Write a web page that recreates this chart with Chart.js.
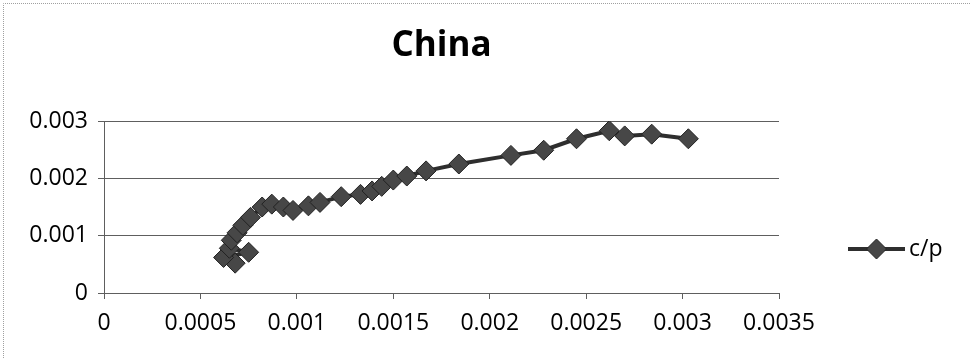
<!DOCTYPE html>
<html>
<head>
<meta charset="utf-8">
<script src="https://cdn.jsdelivr.net/npm/chart.js@4.4.1/dist/chart.umd.min.js"></script>
<style>
  html, body { margin: 0; padding: 0; background: #fff; }
  #wrap { width: 970px; height: 358px; position: relative; }
</style>
</head>
<body>
<div id="wrap"><canvas id="c" width="970" height="358"></canvas></div>
<script>
const chartTitle = 'China';
const seriesName = 'c/p';
const xValues = [0.00068, 0.00062, 0.00075, 0.00065, 0.00066, 0.00069, 0.00072, 0.00076, 0.00082, 0.00087,
                 0.00093, 0.00098, 0.00106, 0.00112, 0.00123, 0.00133, 0.00139, 0.00144, 0.00150, 0.00157,
                 0.00167, 0.00184, 0.00211, 0.00228, 0.00245, 0.00262, 0.00270, 0.00284, 0.00303];
const yValues = [0.00052, 0.00062, 0.00071, 0.00078, 0.00092, 0.00105, 0.00118, 0.00132, 0.00150, 0.00155,
                 0.00150, 0.00144, 0.00152, 0.00158, 0.00168, 0.00172, 0.00178, 0.00186, 0.00197, 0.00204,
                 0.00213, 0.00225, 0.00240, 0.00249, 0.00269, 0.00283, 0.00274, 0.00277, 0.00269];
const xTickValues = [0, 0.0005, 0.001, 0.0015, 0.002, 0.0025, 0.003, 0.0035];
const xTickLabels = ['0', '0.0005', '0.001', '0.0015', '0.002', '0.0025', '0.003', '0.0035'];
const yTickValues = [0, 0.001, 0.002, 0.003];
const yTickLabels = ['0', '0.001', '0.002', '0.003'];

const FONT = '"Open Sans", "DejaVu Sans", sans-serif';
const LINE_COLOR = '#2e2e2e';
const FILL_COLOR = '#474747';
const GRID_COLOR = '#5e5e5e';

const points = xValues.map((x, i) => ({ x: x, y: yValues[i] }));

const framePlugin = {
  id: 'frame',
  beforeDraw(chart) {
    const ctx = chart.ctx;
    ctx.save();
    ctx.strokeStyle = '#a0a0a0';
    ctx.lineWidth = 1;
    ctx.setLineDash([1, 1]);
    ctx.beginPath();
    ctx.moveTo(3.5, chart.height);
    ctx.lineTo(3.5, 3.5);
    ctx.lineTo(chart.width, 3.5);
    ctx.stroke();
    ctx.restore();
  }
};

const legendPlugin = {
  id: 'sideLegend',
  afterDraw(chart) {
    const ctx = chart.ctx;
    const ds = chart.data.datasets[0];
    const area = chart.chartArea;
    const x0 = area.right + 69;
    const x1 = area.right + 126;
    const y = area.bottom - 44;
    ctx.save();
    ctx.strokeStyle = ds.borderColor;
    ctx.lineWidth = ds.borderWidth;
    ctx.beginPath();
    ctx.moveTo(x0, y);
    ctx.lineTo(x1, y);
    ctx.stroke();
    const cx = (x0 + x1) / 2;
    const r = ds.pointRadius;
    ctx.fillStyle = ds.pointBackgroundColor;
    ctx.strokeStyle = ds.pointBorderColor;
    ctx.lineWidth = ds.pointBorderWidth;
    ctx.beginPath();
    ctx.moveTo(cx - r, y);
    ctx.lineTo(cx, y - r);
    ctx.lineTo(cx + r, y);
    ctx.lineTo(cx, y + r);
    ctx.closePath();
    ctx.fill();
    ctx.stroke();
    ctx.fillStyle = '#000';
    ctx.font = '23px ' + FONT;
    ctx.textBaseline = 'middle';
    ctx.textAlign = 'left';
    ctx.fillText(ds.label, x1 + 4, y);
    ctx.restore();
  }
};

new Chart(document.getElementById('c'), {
  type: 'scatter',
  data: {
    datasets: [{
      label: seriesName,
      data: points,
      showLine: true,
      borderColor: LINE_COLOR,
      borderWidth: 4,
      tension: 0,
      pointStyle: 'rectRot',
      pointRadius: 10,
      pointHoverRadius: 10,
      pointBackgroundColor: FILL_COLOR,
      pointBorderColor: '#222222',
      pointBorderWidth: 1
    }]
  },
  options: {
    responsive: false,
    animation: false,
    devicePixelRatio: 1,
    layout: { padding: { top: 8, left: 8, right: 191, bottom: 5 } },
    plugins: {
      legend: { display: false },
      tooltip: { enabled: false },
      title: {
        display: true,
        text: chartTitle,
        fullSize: false,
        color: '#000',
        font: { family: FONT, size: 35, weight: 'bold', lineHeight: 1.2 },
        padding: { top: 17, bottom: 54 }
      }
    },
    scales: {
      x: {
        type: 'linear',
        min: 0,
        max: 0.0035,
        afterBuildTicks(scale) { scale.ticks = xTickValues.map(v => ({ value: v })); },
        afterFit(scale) { scale.height = 358 - 293 - 5; },
        ticks: {
          color: '#000',
          font: { family: FONT, size: 23 },
          padding: 11,
          maxRotation: 0,
          autoSkip: false,
          callback: (v, i) => xTickLabels[i]
        },
        grid: { display: true, drawOnChartArea: false, drawTicks: true, tickLength: 6, color: GRID_COLOR },
        border: { display: true, color: GRID_COLOR, width: 1 }
      },
      y: {
        type: 'linear',
        min: 0,
        max: 0.003,
        afterBuildTicks(scale) { scale.ticks = yTickValues.map(v => ({ value: v })); },
        afterFit(scale) { scale.width = 104 - 8; },
        ticks: {
          color: '#000',
          font: { family: FONT, size: 23 },
          padding: 10,
          autoSkip: false,
          callback: (v, i) => yTickLabels[i]
        },
        grid: { display: true, drawOnChartArea: true, drawTicks: true, tickLength: 6, color: GRID_COLOR, lineWidth: 1 },
        border: { display: true, color: GRID_COLOR, width: 1 }
      }
    }
  },
  plugins: [framePlugin, legendPlugin]
});
</script>
</body>
</html>
